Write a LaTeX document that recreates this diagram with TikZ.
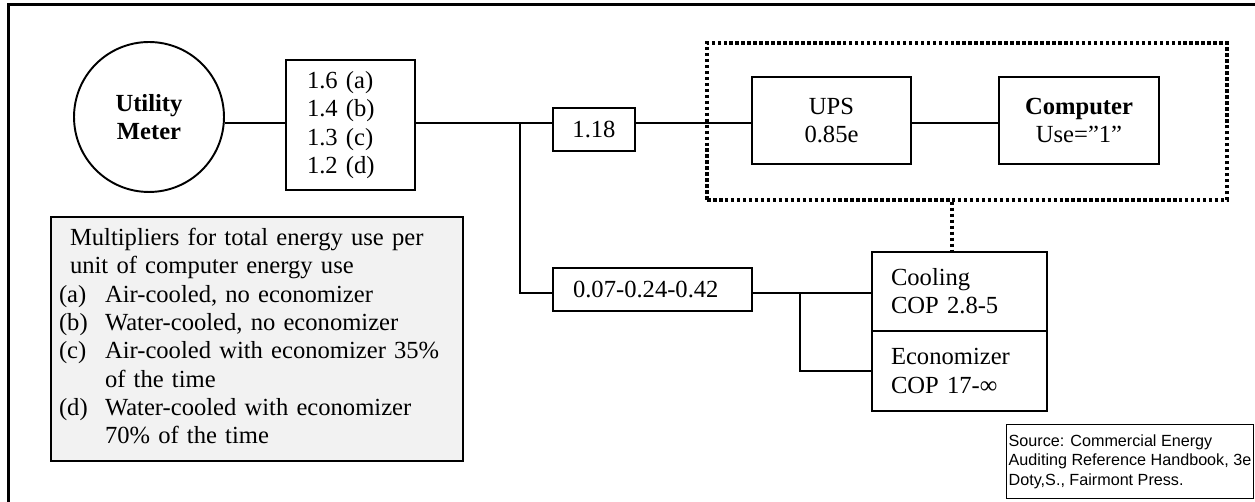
\documentclass[tikz,border=0pt]{standalone}
\usepackage{fontspec}
\setmainfont{Liberation Serif}
\newfontfamily\srcfont{Liberation Sans}
\usepackage{tikz}
\usetikzlibrary{positioning}

\newcommand\srcsize{\srcfont\fontsize{9.2}{11}\selectfont}

\tikzset{
  box/.style={draw, line width=1.1pt, inner sep=0pt, align=center},
  wire/.style={line width=1.1pt},
  dotline/.style={line width=2pt, dash pattern=on 2pt off 1.4pt},
}

\begin{document}
\begin{tikzpicture}[x=0.02cm, y=-0.02cm, font=\fontsize{14}{16.1}\selectfont]
        \useasboundingbox (0,0) rectangle (1255,502);
        \draw[line width=1.7pt] (8.5,520) -- (8.5,5) -- (1270,5);

        % meter and multipliers
        \node[circle, draw, line width=1.1pt, minimum size=3cm, inner sep=0pt, align=center,
              font=\fontsize{14}{16.1}\selectfont\bfseries] (meter) at (149,117) {Utility\\Meter};
        \node[box, minimum width=2.58cm, minimum height=2.6cm, text width=1.74cm,
              inner xsep=0.42cm, align=left] (mult) at (350.5,125) {1.6 (a)\\1.4 (b)\\1.3 (c)\\1.2 (d)};
        \node[box, minimum width=1.64cm, minimum height=0.86cm] (r118) at (594,129.5) {1.18};

        % computer room
        \node[draw, dotline, minimum width=10.4cm, minimum height=3.14cm] (grp) at (967,121.5) {};
        \node[box, minimum width=3.18cm, minimum height=1.74cm] (ups) at (831.5,120.5) {UPS\\0.85e};
        \node[box, minimum width=3.2cm, minimum height=1.74cm] (comp) at (1079,120.5) {\textbf{Computer}\\Use=”1”};

        % cooling
        \node[box, minimum width=3.98cm, minimum height=0.86cm, text width=3.18cm,
              inner xsep=0.4cm, align=left] (r007) at (652.5,289.5) {0.07-0.24-0.42};
        \node[box, minimum width=3.5cm, minimum height=1.58cm, text width=2.74cm,
              inner xsep=0.38cm, align=left] (cool) at (959.5,291.5) {Cooling\\COP 2.8-5};
        \node[box, minimum width=3.5cm, minimum height=1.6cm, text width=2.74cm,
              inner xsep=0.38cm, align=left] (econ) at (959.5,371) {Economizer\\COP 17-∞};

        \coordinate (bus) at (0,123);
        \coordinate (split) at (520,123);
        \coordinate (cbus) at (0,293);
        \coordinate (split2) at (800,293);

        \draw[wire] (meter.east |- bus) -- (mult.west |- bus);
        \draw[wire] (mult.east |- bus) -- (r118.west |- bus);
        \draw[wire] (r118.east |- bus) -- (ups.west |- bus);
        \draw[wire] (ups.east |- bus) -- (comp.west |- bus);
        \draw[wire] (split) |- (r007.west |- cbus);
        \draw[wire] (r007.east |- cbus) -- (cool.west |- cbus);
        \draw[wire] (split2) |- (econ.west);
        \draw[dotline] ([xshift=-0.3cm]grp.south) -- ([xshift=-0.3cm]grp.south |- cool.north);

        % legend
        \node[box, fill=black!5, minimum width=8.24cm, minimum height=4.88cm, text width=7.92cm,
              inner xsep=0.16cm, align=left] (legend) at (257,339) {%
          \begin{tabular}{@{}p{0.92cm}@{}l@{}}
            \multicolumn{2}{@{\hspace{0.22cm}}l@{}}{Multipliers for total energy use per}\\
            \multicolumn{2}{@{\hspace{0.22cm}}l@{}}{unit of computer energy use}\\
            (a) & Air-cooled, no economizer\\
            (b) & Water-cooled, no economizer\\
            (c) & Air-cooled with economizer 35\%\\
                & of the time\\
            (d) & Water-cooled with economizer\\
                & 70\% of the time
          \end{tabular}};

        \node[draw, line width=0.6pt, anchor=north west, inner sep=0pt,
              minimum width=4.94cm, minimum height=1.48cm, align=left,
              font=\srcsize] (src) at (1006,424)
              {Source: Commercial Energy\\Auditing Reference Handbook, 3e\\Doty,S., Fairmont Press.\\[-9.4pt]\mbox{}};
\end{tikzpicture}
\end{document}
